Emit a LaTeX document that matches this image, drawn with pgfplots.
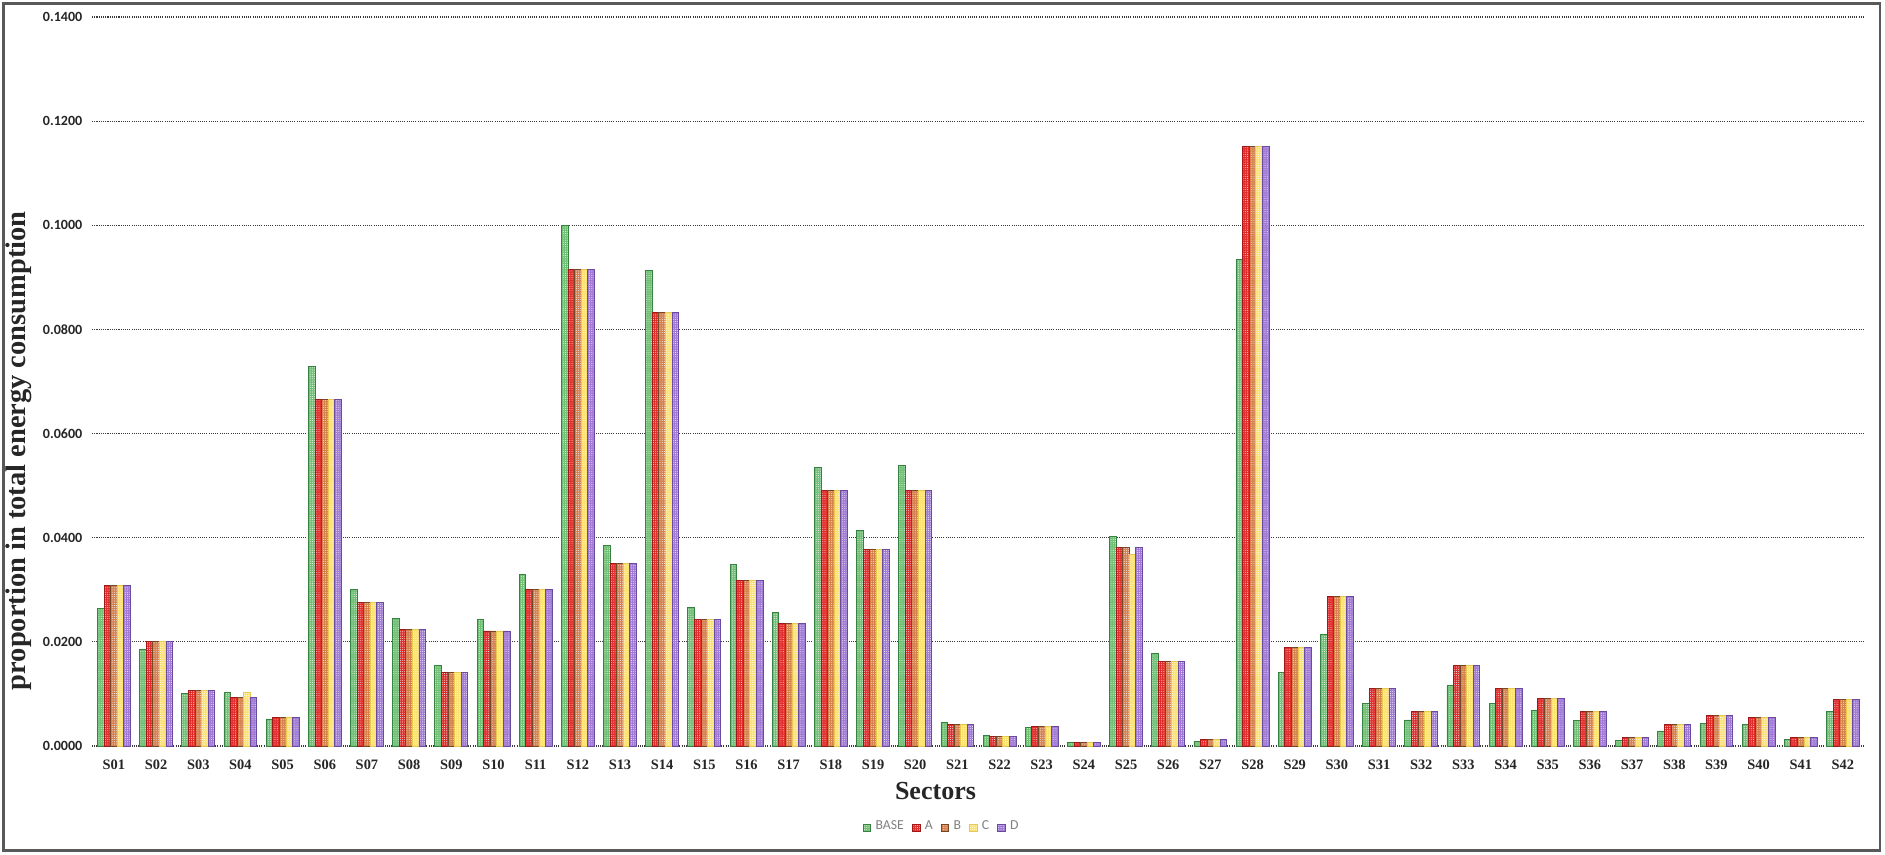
\documentclass[border=0pt]{standalone}
\usepackage{pgfplots}
\pgfplotsset{compat=1.18}
\usepackage{pgfplotstable}
\usepackage{fontspec}
\setmainfont{Liberation Serif}
\newfontfamily\calibri{Carlito}
\usetikzlibrary{patterns.meta}

\definecolor{cBase}{RGB}{112,192,118}
\definecolor{cBaseD}{RGB}{55,130,65}
\definecolor{cA}{RGB}{226,44,44}
\definecolor{cAD}{RGB}{160,25,25}
\definecolor{cB}{RGB}{214,128,78}
\definecolor{cBD}{RGB}{115,72,40}
\definecolor{cC}{RGB}{252,226,110}
\definecolor{cCD}{RGB}{232,200,80}
\definecolor{cD}{RGB}{160,122,212}
\definecolor{cDD}{RGB}{105,75,160}

\tikzdeclarepattern{
  name=whitedots,
  type=uncolored,
  bounding box={(-0.11mm,-0.11mm) and (0.11mm,0.11mm)},
  tile size={(0.22mm,0.22mm)},
  code={\fill (0,0) circle (0.045mm);}
}

\pgfplotstableread{
x base a b c d
1 0.0265 0.0308 0.0308 0.0308 0.0308
2 0.0186 0.0200 0.0200 0.0200 0.0200
3 0.0101 0.0107 0.0107 0.0107 0.0107
4 0.0102 0.0094 0.0094 0.0103 0.0094
5 0.0052 0.0055 0.0055 0.0055 0.0055
6 0.0729 0.0666 0.0666 0.0666 0.0666
7 0.0301 0.0276 0.0276 0.0276 0.0276
8 0.0245 0.0224 0.0224 0.0224 0.0224
9 0.0155 0.0142 0.0142 0.0142 0.0142
10 0.0243 0.0221 0.0221 0.0221 0.0221
11 0.0330 0.0301 0.0301 0.0301 0.0301
12 0.1000 0.0916 0.0916 0.0916 0.0916
13 0.0385 0.0351 0.0351 0.0351 0.0351
14 0.0913 0.0832 0.0832 0.0832 0.0832
15 0.0266 0.0243 0.0243 0.0243 0.0243
16 0.0348 0.0318 0.0318 0.0318 0.0318
17 0.0256 0.0236 0.0236 0.0236 0.0236
18 0.0535 0.0490 0.0490 0.0490 0.0490
19 0.0414 0.0377 0.0377 0.0377 0.0377
20 0.0538 0.0490 0.0490 0.0490 0.0490
21 0.0045 0.0041 0.0041 0.0041 0.0041
22 0.0021 0.0019 0.0019 0.0019 0.0019
23 0.0035 0.0038 0.0038 0.0038 0.0038
24 0.0006 0.0006 0.0006 0.0006 0.0006
25 0.0403 0.0382 0.0382 0.0368 0.0382
26 0.0177 0.0162 0.0162 0.0162 0.0162
27 0.0008 0.0012 0.0012 0.0012 0.0012
28 0.0935 0.1152 0.1152 0.1152 0.1152
29 0.0142 0.0190 0.0190 0.0190 0.0190
30 0.0214 0.0288 0.0288 0.0288 0.0288
31 0.0081 0.0110 0.0110 0.0110 0.0110
32 0.0050 0.0066 0.0066 0.0066 0.0066
33 0.0116 0.0155 0.0155 0.0155 0.0155
34 0.0082 0.0111 0.0111 0.0111 0.0111
35 0.0068 0.0091 0.0091 0.0091 0.0091
36 0.0049 0.0066 0.0066 0.0066 0.0066
37 0.0011 0.0016 0.0016 0.0016 0.0016
38 0.0029 0.0041 0.0041 0.0041 0.0041
39 0.0043 0.0059 0.0059 0.0059 0.0059
40 0.0041 0.0054 0.0054 0.0054 0.0054
41 0.0012 0.0017 0.0017 0.0017 0.0017
42 0.0066 0.0089 0.0089 0.0089 0.0089
}\data

\pgfplotsset{
  mylegend/.style={legend image code/.code={\draw[##1] (0mm,-0.38mm) rectangle (0.76mm,0.38mm);}},
}

\begin{document}
\begin{tikzpicture}
\useasboundingbox (0mm,0mm) rectangle (188.5mm,85.4mm);
\draw[line width=0.25mm, gray!70!black] (0.35mm,0.35mm) rectangle (188.0mm,85.05mm);
\begin{axis}[
  at={(9.2mm,10.8mm)}, anchor=south west,
  scale only axis, width=177.2mm, height=72.9mm,
  ybar=0pt, bar width=0.156,
  xmin=0.48, xmax=42.5, ymin=0, ymax=0.14,
  xtick={1,...,42},
  xticklabels={S01,S02,S03,S04,S05,S06,S07,S08,S09,S10,S11,S12,S13,S14,S15,S16,S17,S18,S19,S20,S21,S22,S23,S24,S25,S26,S27,S28,S29,S30,S31,S32,S33,S34,S35,S36,S37,S38,S39,S40,S41,S42},
  ytick={0,0.02,...,0.141},
  axis line style={draw=none},
  tick style={draw=none},
  ymajorgrids,
  grid style={gray!45!black, line width=0.12mm, dash pattern=on 0.11mm off 0.11mm},
  yticklabel style={font=\calibri\bfseries\fontsize{4}{4.8}\selectfont, text=black!85, anchor=east, inner sep=0pt, xshift=-0.9mm,
     /pgf/number format/.cd, fixed, fixed zerofill, precision=4, assume math mode=true},
  scaled y ticks=false,
  xticklabel style={font=\bfseries\fontsize{4.1}{4.8}\selectfont, text=black!85, anchor=north, inner sep=0pt, yshift=0.15mm},
  xlabel={Sectors},
  ylabel={proportion in total energy consumption},
  xlabel style={font=\bfseries\fontsize{7.4}{9}\selectfont, text=black!85, at={(axis description cs:0.476,-0.0617)}, anchor=center},
  ylabel style={font=\bfseries\fontsize{8.1}{9}\selectfont, text=black!85, at={(axis description cs:-0.0412,0.405)}, anchor=center},
  legend style={at={(axis description cs:0.4795,-0.1125)}, anchor=center, draw=none, fill=none,
     legend columns=5, inner sep=0pt, outer sep=0pt,
     nodes={inner sep=0.2mm},
     font=\calibri\fontsize{3.9}{4.5}\selectfont, text=gray,
     /tikz/every even column/.append style={column sep=0.6mm},
     /tikz/every odd column/.append style={column sep=0.25mm}},
]
\addplot[fill=cBase, draw=cBaseD, line width=0.08mm, postaction={pattern=whitedots, pattern color=white}, mylegend] table[x=x,y=base]{\data};
\addplot[fill=cA, draw=cAD, line width=0.08mm, postaction={pattern=whitedots, pattern color=white}, mylegend] table[x=x,y=a]{\data};
\addplot[fill=cB, draw=cBD, line width=0.08mm, postaction={pattern=whitedots, pattern color=white}, mylegend] table[x=x,y=b]{\data};
\addplot[fill=cC, draw=cCD, line width=0.08mm, postaction={pattern=whitedots, pattern color=white}, mylegend] table[x=x,y=c]{\data};
\addplot[fill=cD, draw=cDD, line width=0.08mm, postaction={pattern=whitedots, pattern color=white}, mylegend] table[x=x,y=d]{\data};
\legend{BASE,A,B,C,D}
\end{axis}
\end{tikzpicture}
\end{document}
